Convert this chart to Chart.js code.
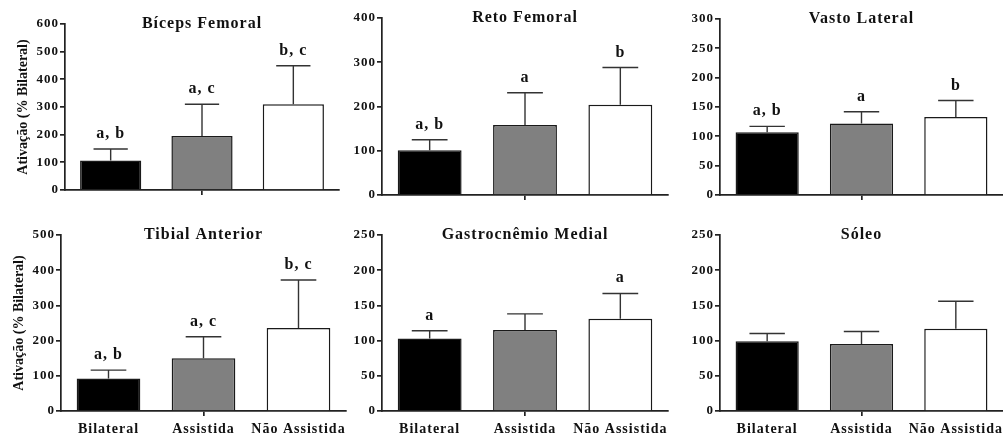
<!DOCTYPE html>
<html>
<head>
<meta charset="utf-8">
<script src="https://cdn.jsdelivr.net/npm/chart.js@4.4.0/dist/chart.umd.min.js"></script>
<style>
  html, body { margin: 0; padding: 0; background: #fff; }
  body { width: 1003px; height: 436px; position: relative; overflow: hidden; }
  .panel { position: absolute; }
</style>
</head>
<body>
<div class="panel" id="p0"><canvas id="c0"></canvas></div>
<div class="panel" id="p1"><canvas id="c1"></canvas></div>
<div class="panel" id="p2"><canvas id="c2"></canvas></div>
<div class="panel" id="p3"><canvas id="c3"></canvas></div>
<div class="panel" id="p4"><canvas id="c4"></canvas></div>
<div class="panel" id="p5"><canvas id="c5"></canvas></div>
<script>
// Ativação muscular (% do Bilateral) - media + erro, letras = diferencas
const groups = ['Bilateral', 'Assistida', 'Não Assistida'];
const muscles = ['Bíceps Femoral', 'Reto Femoral', 'Vasto Lateral', 'Tibial Anterior', 'Gastrocnêmio Medial', 'Sóleo'];
const yTitle = 'Ativação (% Bilateral)';

const bicepsFemoral = [107, 195, 310];
const bicepsFemoralErr = [41, 115, 139];
const bicepsFemoralSig = ['a, b', 'a, c', 'b, c'];

const retoFemoral = [101, 158, 204];
const retoFemoralErr = [24, 73, 84];
const retoFemoralSig = ['a, b', 'a', 'b'];

const vastoLateral = [107, 122, 133];
const vastoLateralErr = [10, 20, 28];
const vastoLateralSig = ['a, b', 'a', 'b'];

const tibialAnterior = [92, 150, 236];
const tibialAnteriorErr = [24, 61, 136];
const tibialAnteriorSig = ['a, b', 'a, c', 'b, c'];

const gastrocnemio = [103, 115, 131];
const gastrocnemioErr = [11, 23, 36];
const gastrocnemioSig = ['a', '', 'a'];

const soleo = [99, 95, 117];
const soleoErr = [11, 18, 39];
const soleoSig = ['', '', ''];

const yMax = [600, 400, 300, 500, 250, 250];
const yStep = [100, 100, 50, 100, 50, 50];

const means = [bicepsFemoral, retoFemoral, vastoLateral, tibialAnterior, gastrocnemio, soleo];
const errs = [bicepsFemoralErr, retoFemoralErr, vastoLateralErr, tibialAnteriorErr, gastrocnemioErr, soleoErr];
const sigs = [bicepsFemoralSig, retoFemoralSig, vastoLateralSig, tibialAnteriorSig, gastrocnemioSig, soleoSig];

const barColors = ['#000000', '#808080', '#ffffff'];
const FONT = '"Liberation Serif", "Times New Roman", serif';

// panel boxes (page layout only)
const boxes = [
  { left: 0,   top: 0,   width: 345, height: 200, axisW: 65, padTop: 24, padRight: 6, xH: 10, yLabelX: 23, xLabels: false },
  { left: 335, top: 0,   width: 338, height: 205, axisW: 47, padTop: 18, padRight: 5, xH: 10, yLabelX: 0,  xLabels: false },
  { left: 673, top: 0,   width: 330, height: 205, axisW: 47, padTop: 19, padRight: 0, xH: 10, yLabelX: 0,  xLabels: false },
  { left: 0,   top: 220, width: 350, height: 216, axisW: 61, padTop: 15, padRight: 4, xH: 25, yLabelX: 19, xLabels: true },
  { left: 335, top: 220, width: 338, height: 216, axisW: 47, padTop: 15, padRight: 5, xH: 25, yLabelX: 0,  xLabels: true },
  { left: 673, top: 220, width: 330, height: 216, axisW: 47, padTop: 15, padRight: 0, xH: 25, yLabelX: 0,  xLabels: true }
];

// error bars, letters, panel title, y title
const extras = {
  id: 'extras',
  beforeDraw(chart) {
    chart.ctx.letterSpacing = '1px';
  },
  afterDatasetsDraw(chart, args, opts) {
    const ctx = chart.ctx;
    const y = chart.scales.y;
    const ds = chart.data.datasets[0];
    const a = chart.chartArea;
    ctx.save();
    chart.getDatasetMeta(0).data.forEach((bar, i) => {
      const top = y.getPixelForValue(ds.data[i] + opts.err[i]);
      const half = bar.width * 0.28;
      ctx.strokeStyle = '#333';
      ctx.lineWidth = 1.4;
      ctx.beginPath();
      ctx.moveTo(bar.x, bar.y);
      ctx.lineTo(bar.x, top);
      ctx.moveTo(bar.x - half, top);
      ctx.lineTo(bar.x + half, top);
      ctx.stroke();
      if (opts.sig[i]) {
        ctx.fillStyle = '#111';
        ctx.font = 'bold 16px ' + FONT;
        ctx.textAlign = 'center';
        ctx.textBaseline = 'alphabetic';
        ctx.fillText(opts.sig[i], bar.x, top - 11);
      }
    });
    ctx.fillStyle = '#111';
    ctx.font = 'bold 16px ' + FONT;
    ctx.textAlign = 'center';
    ctx.textBaseline = 'middle';
    ctx.fillText(opts.title, (a.left + a.right) / 2, a.top);
    if (opts.yLabelX) {
      ctx.letterSpacing = '0px';
      ctx.translate(opts.yLabelX, (a.top + a.bottom) / 2);
      ctx.rotate(-Math.PI / 2);
      ctx.font = 'bold 14px ' + FONT;
      ctx.fillText(yTitle, 0, 0);
    }
    ctx.restore();
  }
};

boxes.forEach((b, k) => {
  const div = document.getElementById('p' + k);
  div.style.left = b.left + 'px';
  div.style.top = b.top + 'px';
  div.style.width = b.width + 'px';
  div.style.height = b.height + 'px';

  new Chart(document.getElementById('c' + k), {
    type: 'bar',
    data: {
      labels: groups,
      datasets: [{
        data: means[k],
        backgroundColor: barColors,
        borderColor: '#1a1a1a',
        borderWidth: 1.5,
        barPercentage: 0.67,
        categoryPercentage: 1
      }]
    },
    options: {
      responsive: true,
      maintainAspectRatio: false,
      animation: false,
      layout: { padding: { top: b.padTop, right: b.padRight, left: 0, bottom: 0 } },
      plugins: {
        legend: { display: false },
        tooltip: { enabled: false },
        extras: { err: errs[k], sig: sigs[k], title: muscles[k], yLabelX: b.yLabelX }
      },
      scales: {
        x: {
          offset: true,
          grid: {
            offset: false,
            drawOnChartArea: false,
            tickLength: 5,
            lineWidth: 1.7,
            color: c => c.index === 1 ? '#222' : 'rgba(0,0,0,0)'
          },
          border: { display: true, color: '#222', width: 1.7 },
          ticks: {
            display: b.xLabels,
            color: '#111',
            padding: 5,
            maxRotation: 0,
            autoSkip: false,
            font: { family: FONT, weight: 'bold', size: 14 }
          },
          afterFit: s => { s.height = b.xH; }
        },
        y: {
          min: 0,
          max: yMax[k],
          ticks: {
            stepSize: yStep[k],
            color: '#111',
            padding: 1,
            font: { family: FONT, weight: 'bold', size: 13 }
          },
          grid: { drawOnChartArea: false, tickLength: 5, lineWidth: 1.7, color: '#222' },
          border: { color: '#222', width: 1.7 },
          afterFit: s => { s.width = b.axisW; }
        }
      }
    },
    plugins: [extras]
  });
});
</script>
</body>
</html>
